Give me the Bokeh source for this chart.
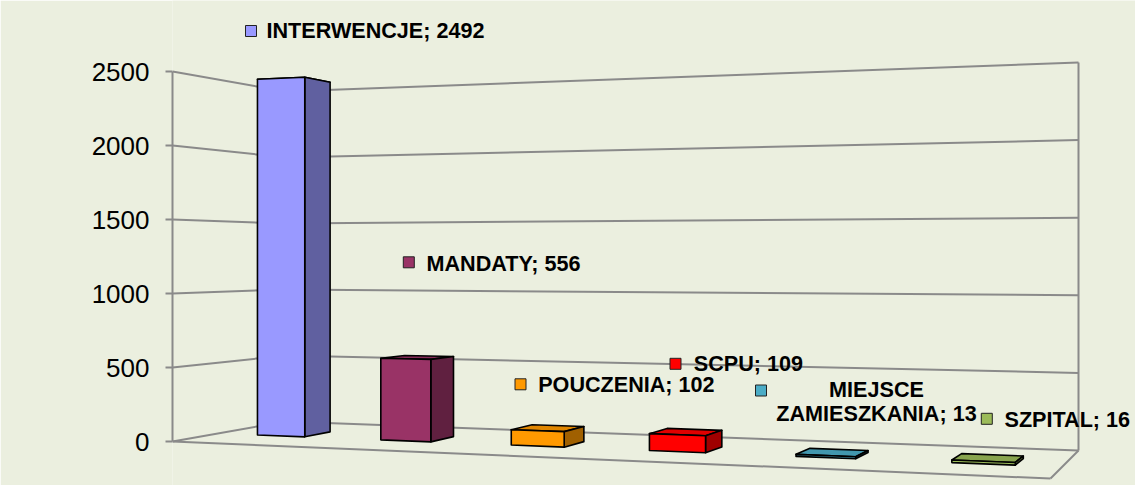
import numpy as np
from bokeh.plotting import figure
from bokeh.models import Range1d, FixedTicker
from bokeh.embed import file_html
from bokeh.resources import INLINE
from bokeh.core.properties import value

# ---------------- data ----------------
categories = ["INTERWENCJE", "MANDATY", "POUCZENIA", "SCPU", "MIEJSCE ZAMIESZKANIA", "SZPITAL"]
values = [2492, 556, 102, 109, 13, 16]
colors = ["#9999FF", "#993366", "#FF9900", "#FF0000", "#4BACC6", "#9BBB59"]
tick_values = [0, 500, 1000, 1500, 2000, 2500]

# ---------------- layout / style ----------------
BG = "#EBEFDF"
GRID = "#8a8a8a"
FIG_W, FIG_H = 1135, 485
ORIGIN = 0
LEFT_BORDER = 172
# floor corners of the 3-D box (front-left, front-right, back-right, back-left), figure px
FL, FR, BR, BL = (172.0, 441.0), (1050.0, 478.0), (1078.0, 450.0), (285.0, 421.0)
HORIZON = 256.0          # figure-px y of the horizon
EYE = 1250.0             # eye height in value units
K = (FL[1] - HORIZON) / EYE   # px per value unit at the front-left edge
BAR_FRAC = 0.39          # bar width as fraction of a category slot
BAR_SHIFT = 0.004
BAR_DEPTH = (0.38, 0.62)
SIDE_SHADE, TOP_SHADE = 0.63, 0.88

# data-label placement (figure px) as set by hand in the original chart
LABEL_XY = [(266, 38.3), (426, 271), (537.7, 392.3), (693.3, 371.7), (876, 397.7), (1004, 427.3)]
LABEL_ALIGN = ["left", "left", "left", "left", "center", "left"]
LABEL_WRAP = [False, False, False, False, True, False]
KEY_XY = [(250.5, 30.5), (408.3, 261.8), (520, 383.8), (675, 363.3), (760.5, 390), (986.3, 418.3)]
LINE_GAP = 24
BASELINE_FIX = -8.5


def fit_homography(src, dst):
    A, rhs = [], []
    for (a, b), (x, y) in zip(src, dst):
        A.append([a, b, 1, 0, 0, 0, -x * a, -x * b]); rhs.append(x)
        A.append([0, 0, 0, a, b, 1, -y * a, -y * b]); rhs.append(y)
    h = np.linalg.solve(np.array(A, float), np.array(rhs, float))
    return np.append(h, 1.0).reshape(3, 3)


HM = fit_homography([(0, 0), (1, 0), (1, 1), (0, 1)], [FL, FR, BR, BL])


def to_dy(ys):
    return (FL[1] - ys) / K


def proj(a, b, v):
    p = HM @ np.array([a, b, 1.0])
    xf, yf = p[0] / p[2], p[1] / p[2]
    ys = yf - (v / EYE) * (yf - HORIZON)
    return xf, to_dy(ys)


def shade(hexcol, f):
    h = hexcol.lstrip("#")
    r, g, b = (int(h[i:i + 2], 16) for i in (0, 2, 4))
    return "#%02x%02x%02x" % (int(r * f), int(g * f), int(b * f))


p = figure(width=FIG_W, height=FIG_H,
           x_range=Range1d(ORIGIN + LEFT_BORDER, ORIGIN + FIG_W),
           y_range=Range1d(to_dy(ORIGIN + FIG_H), to_dy(ORIGIN)),
           toolbar_location=None, output_backend="svg",
           x_axis_location=None, y_axis_location="left",
           min_border_left=LEFT_BORDER, min_border_right=0,
           min_border_top=0, min_border_bottom=0,
           background_fill_color=BG, border_fill_color=BG,
           outline_line_color=None)
p.grid.visible = False

ax = p.yaxis[0]
ax.ticker = FixedTicker(ticks=tick_values)
ax.bounds = (tick_values[0], tick_values[-1])
ax.axis_line_color = GRID
ax.axis_line_width = 2
ax.major_tick_line_color = GRID
ax.major_tick_line_width = 2
ax.major_tick_out = 7
ax.major_tick_in = 0
ax.minor_tick_line_color = None
ax.major_label_text_font = "Liberation Sans"
ax.major_label_text_font_size = "26px"
ax.major_label_text_color = "black"
ax.major_label_standoff = 16

# ---------------- walls / gridlines ----------------
top = tick_values[-1]
gx, gy = [], []
def seg(p0, p1):
    gx.append([p0[0], p1[0]]); gy.append([p0[1], p1[1]])

for t in tick_values:
    seg(proj(0, 0, t), proj(0, 1, t))   # left wall
    seg(proj(0, 1, t), proj(1, 1, t))   # back wall
seg(proj(0, 0, 0), proj(1, 0, 0))       # floor front edge
seg(proj(1, 0, 0), proj(1, 1, 0))       # floor right edge
seg(proj(0, 1, 0), proj(0, 1, top))     # back-left edge
seg(proj(1, 1, 0), proj(1, 1, top))     # back-right edge
p.multi_line(gx, gy, line_color=GRID, line_width=2)

# ---------------- 3-D bars ----------------
n = len(values)
slot = 1.0 / n
b0, b1 = BAR_DEPTH
fx, fy, fc = [], [], []
def face(pts, col):
    pp = [proj(*q) for q in pts]
    fx.append([q[0] for q in pp]); fy.append([q[1] for q in pp]); fc.append(col)

for i, (v, c) in enumerate(zip(values, colors)):
    ac = (i + 0.5) * slot + BAR_SHIFT
    a0, a1 = ac - BAR_FRAC * slot / 2, ac + BAR_FRAC * slot / 2
    face([(a0, b0, v), (a1, b0, v), (a1, b1, v), (a0, b1, v)], shade(c, TOP_SHADE))
    face([(a1, b0, 0), (a1, b1, 0), (a1, b1, v), (a1, b0, v)], shade(c, SIDE_SHADE))
    face([(a0, b0, 0), (a1, b0, 0), (a1, b0, v), (a0, b0, v)], c)
p.patches(fx, fy, fill_color=fc, line_color="black", line_width=1.6, line_join="round")

# ---------------- data labels ----------------
groups = {"left": ([], [], []), "center": ([], [], [])}
for i, (cat, v) in enumerate(zip(categories, values)):
    txt = f"{cat}; {v}"
    lines = txt.split(" ", 1) if LABEL_WRAP[i] else [txt]
    lx, ly = LABEL_XY[i]
    gxs, gys, gts = groups[LABEL_ALIGN[i]]
    for j, ln in enumerate(lines):
        gxs.append(lx); gys.append(to_dy(ly + BASELINE_FIX + j * LINE_GAP)); gts.append(ln)
for align, (xs_, ys_, ts_) in groups.items():
    if ts_:
        p.text(xs_, ys_, text=ts_, text_font=value("Liberation Sans"), text_font_style="bold",
               text_font_size="21.6px", text_color="black", text_align=align,
               text_baseline="alphabetic")

p.scatter([k[0] for k in KEY_XY], [to_dy(k[1]) for k in KEY_XY], marker="square", size=11,
          fill_color=colors, line_color="#222222", line_width=1)

open("out.html", "w").write(file_html(p, INLINE))
